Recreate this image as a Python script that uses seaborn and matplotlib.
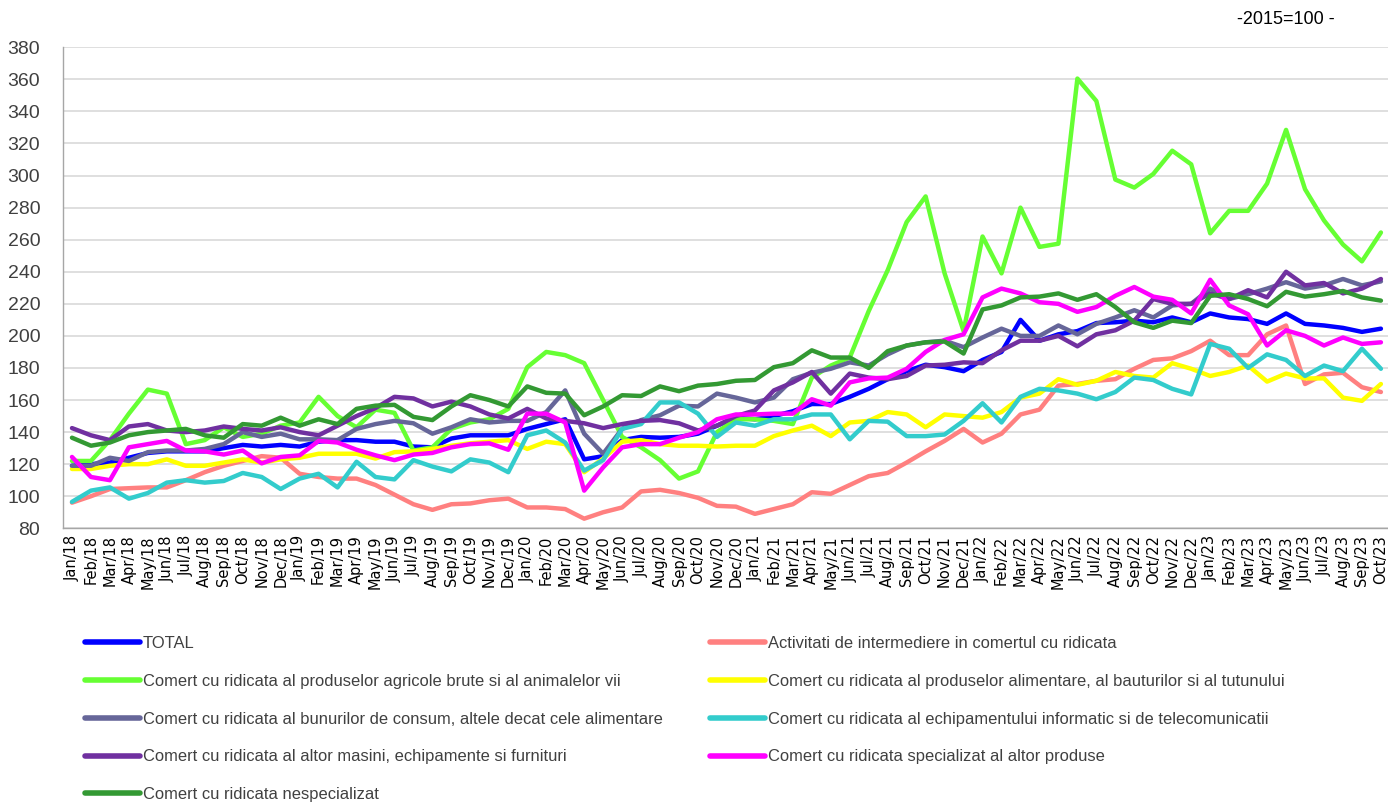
import matplotlib
matplotlib.use("Agg")
import matplotlib.pyplot as plt
import seaborn as sns
import pandas as pd

# categorii (luni)
months = [f"{m}/{y}" for y in range(18, 24) for m in
          ["Jan", "Feb", "Mar", "Apr", "May", "Jun", "Jul", "Aug", "Sep", "Oct", "Nov", "Dec"]][:70]

total = [119, 120, 121, 124, 127, 128, 128, 128, 130, 132, 131, 132, 131, 134, 135, 135, 134, 134,
         131, 130.5, 136, 138, 138, 138, 142, 145, 148, 123, 125, 135, 137, 136.5, 137, 139, 144,
         149, 148, 150, 153, 157.5, 157.5, 162, 167, 173, 178, 182, 180.5, 178, 185, 190, 210,
         197, 201, 203, 208, 208.5, 209.5, 208.5, 211.5, 208.5, 214, 211.5, 210.5, 207.5, 214, 207.5, 206.5, 205, 202.5, 204.5]
intermediere = [96, 100, 104.5, 105, 105.5, 105.5, 110, 115, 119, 122, 125, 124, 114, 112, 111, 111, 107, 101,
                95, 91.5, 95, 95.5, 97.5, 98.5, 93, 93, 92, 86, 90, 93, 103, 104, 102, 99,
                94, 93.5, 89, 92, 95, 102.5, 101.5, 107, 112.5, 114.5, 121, 128, 134.5, 142, 133.5, 139, 151,
                154, 169, 170, 172, 173, 179.5, 185, 186, 190.5, 197, 188, 188, 201, 206.5, 170, 176, 177, 168, 165]
agricole = [122, 122, 135, 151.5, 166.5, 164, 132.5, 135, 143, 137, 139, 144, 146, 162, 150, 143, 154, 152,
            128.5, 130.5, 142, 146, 148, 154.5, 180.5, 190, 188, 183, 160, 137, 130.5, 122.5, 111, 115.5, 140,
            148, 148, 147, 145, 174, 181.5, 186.5, 215.5, 241, 271, 287, 239, 203, 262, 239, 280,
            255.5, 257.5, 360.5, 346.5, 297.5, 292.5, 301, 315.5, 307, 264, 278, 278, 295, 328.5, 291.5, 272, 257, 246.5, 264.5]
alimentare = [117, 117, 119, 120, 120, 123, 119, 119, 121, 123, 121, 123, 124, 126.5, 126.5, 126.5, 123.5, 127.5,
              128, 129.5, 131.5, 133, 134, 135, 129.5, 134, 132.5, 115, 123.5, 134, 135, 132.5, 131.5, 131.5, 131,
              131.5, 131.5, 137.5, 141, 144, 137.5, 146, 147, 152.5, 151, 143, 151, 150, 149, 152.5, 161.5,
              164, 173, 169.5, 172, 177.5, 175, 174, 183, 179.5, 175, 177.5, 181.5, 171.5, 176.5, 173.5, 173.5, 161.5, 159.5, 170]
consum = [119, 119, 124, 122, 127.5, 128.5, 128.5, 129.5, 132.5, 140, 137, 139, 135.5, 135.5, 135, 142, 145, 147,
          145.5, 139, 143, 148, 146, 147, 147, 152.5, 166, 139, 126.5, 142, 147.5, 150.5, 156.5, 156, 164,
          161.5, 158.5, 161.5, 173, 177, 179.5, 183.5, 181.5, 188.5, 194, 196, 197, 193, 199, 204.5, 200,
          200, 206.5, 201, 207.5, 211.5, 216, 211.5, 219, 220, 229.5, 223, 226, 229.5, 233.5, 229.5, 231.5, 235.5, 231.5, 234]
informatic = [96.5, 103.5, 105.5, 98.5, 102, 108.5, 110, 108.5, 109.5, 114.5, 112, 104.5, 111, 114, 105.5, 121.5, 112, 110.5,
              122.5, 118.5, 115.5, 123, 121, 115, 138, 141, 133.5, 116, 122.5, 142, 145, 158.5, 158.5, 151.5, 137,
              146, 144, 148, 148, 151, 151, 135.5, 147, 146.5, 137.5, 137.5, 138.5, 147, 158, 146, 162,
              167, 166, 164, 160.5, 165, 174, 172.5, 167, 163.5, 195, 192, 180, 188.5, 185, 175, 181.5, 178, 192, 179.5]
masini = [142.5, 138, 135, 143.5, 145, 141, 140, 141, 143.5, 142, 141, 143, 140, 138, 144, 150, 155, 162,
          161, 156, 159, 156, 151, 148.5, 154.5, 148.5, 147, 145.5, 142.5, 145, 147, 147.5, 145.5, 141, 144,
          150, 153.5, 166, 171, 177.5, 164, 176.5, 174, 173, 175, 181.5, 182, 183.5, 183, 191, 197,
          197, 200, 193.5, 201, 203.5, 209.5, 223, 220, 220, 226.5, 223, 228.5, 224, 240, 231.5, 233, 226.5, 229.5, 235.5]
specializat = [124.5, 112, 110, 130.5, 132.5, 134.5, 128.5, 128, 126, 128.5, 120.5, 124.5, 125.5, 134.5, 133.5, 129, 125.5, 122.5,
               126, 127, 130.5, 132.5, 133, 129, 151.5, 151.5, 146, 103.5, 118, 130.5, 132.5, 132.5, 136.5, 140, 148,
               151, 151, 151.5, 151.5, 160.5, 156.5, 171, 173.5, 174, 179.5, 190, 197.5, 201, 224, 229.5, 226.5,
               221, 220, 215, 218, 225, 230.5, 224.5, 222.5, 214, 235, 219, 213.5, 194, 203.5, 200, 194, 199, 195, 196]
nespecializat = [136.5, 131.5, 133.5, 138, 140, 141, 142, 138, 136.5, 145, 144, 149, 144, 148, 145, 154.5, 156.5, 157,
                 149.5, 147.5, 156, 163, 160, 156, 168.5, 164.5, 164, 150.5, 156, 163, 162.5, 168.5, 165.5, 169, 170,
                 172, 172.5, 180.5, 183, 191, 186.5, 186.5, 180, 190.5, 194, 196, 196.5, 189, 216.5, 219, 224,
                 224.5, 226.5, 222.5, 226, 218, 208.5, 205, 209.5, 208, 225, 226, 223, 218.5, 227.5, 224.5, 226, 228, 224, 222]

names = ["TOTAL",
         "Activitati de intermediere in comertul cu ridicata",
         "Comert cu ridicata al produselor agricole brute si al animalelor vii",
         "Comert cu ridicata al produselor alimentare, al bauturilor si al tutunului",
         "Comert cu ridicata al bunurilor de consum, altele decat cele alimentare",
         "Comert cu ridicata al echipamentului informatic si de telecomunicatii",
         "Comert cu ridicata al altor masini, echipamente si furnituri",
         "Comert cu ridicata specializat al altor produse",
         "Comert cu ridicata nespecializat"]
series = [total, intermediere, agricole, alimentare, consum, informatic, masini, specializat, nespecializat]
colors = ["#0000FF", "#FF8080", "#66FF33", "#FFFF00", "#666699", "#33CCCC", "#7030A0", "#FF00FF", "#339933"]

# tabel lung pentru seaborn
rows = []
for name, vals in zip(names, series):
    for i, v in enumerate(vals):
        rows.append({"luna": i, "indice": v, "serie": name})
df = pd.DataFrame(rows)

sns.set_style("white")
plt.rcParams['font.family'] = ['Liberation Sans', 'DejaVu Sans']

fig = plt.figure(figsize=(13.88, 8.05), dpi=100)
ax = fig.add_axes([62.5 / 1388, 1 - 528.3 / 805, 1 - 62.5 / 1388, (528.3 - 47.3) / 805])

sns.lineplot(data=df, x="luna", y="indice", hue="serie", hue_order=names,
             palette=dict(zip(names, colors)), linewidth=3.2, sort=False, ax=ax)

ax.set_xlim(-0.5, -0.5 + (1388 - 62.5) / 18.97)
ax.set_ylim(80, 380)
ax.set_yticks(range(80, 381, 20))
ax.set_xticks(range(len(months)))
ax.set_xticklabels(months, rotation=90, fontsize=10.5, family="DejaVu Sans", color="#000000")
ax.tick_params(axis="x", length=0, pad=5)
ax.tick_params(axis="y", length=0, pad=16, labelsize=14, labelcolor="#404040")
ax.set_xlabel("")
ax.set_ylabel("")
ax.grid(axis="y", color="#D9D9D9", linewidth=1.2)
ax.set_axisbelow(True)
for s in ["top", "right"]:
    ax.spines[s].set_visible(False)
for s in ["left", "bottom"]:
    ax.spines[s].set_color("#A6A6A6")
    ax.spines[s].set_linewidth(1.0)

handles, labels = ax.get_legend_handles_labels()
ax.get_legend().remove()

# legenda in doua coloane (ordine pe randuri, ca in Excel)
leg_kw = dict(loc="upper left", frameon=False, fontsize=11.9, handlelength=3.3, handletextpad=0.2,
              labelspacing=1.38, borderaxespad=0, borderpad=0)
left = [0, 2, 4, 6, 8]
right = [1, 3, 5, 7]
leg1 = fig.legend([handles[k] for k in left], [labels[k] for k in left],
                  bbox_to_anchor=(85 / 1388, 1 - 636 / 805), **leg_kw)
leg2 = fig.legend([handles[k] for k in right], [labels[k] for k in right],
                  bbox_to_anchor=(710 / 1388, 1 - 636 / 805), **leg_kw)
for leg in (leg1, leg2):
    for t in leg.get_texts():
        t.set_color("#404040")
    for h in leg.legend_handles:
        h.set_linewidth(4)
        h.set_solid_capstyle("round")

fig.text(1335 / 1388, 1 - 20 / 805, "-2015=100 -", ha="right", va="center", fontsize=13, color="#000000")

fig.savefig("out.png", dpi=100)
